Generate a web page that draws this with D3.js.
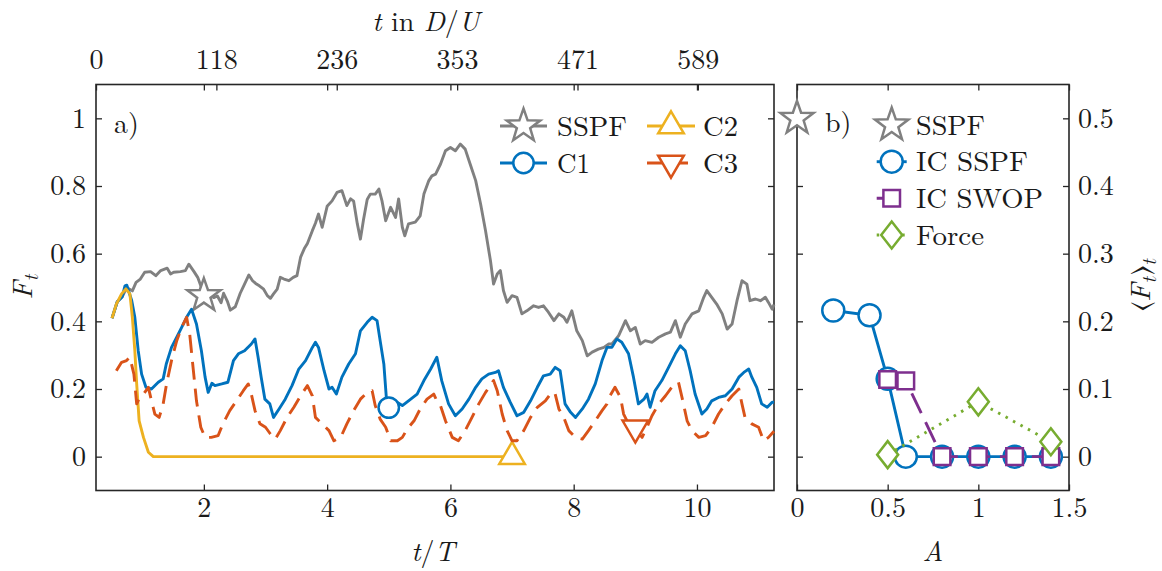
<!DOCTYPE html>
<html><head><meta charset="utf-8">
<script src="https://cdn.jsdelivr.net/npm/d3@7"></script>
<style>
body{margin:0;background:#fff}
</style>
</head><body>
<svg id="c" width="1162" height="571" xmlns="http://www.w3.org/2000/svg"></svg>
<script>
// ---------------- DATA ----------------
// panel a: t/T vs F_t
const sspf = [[0.51,0.409],[0.595,0.458],[0.676,0.473],[0.75,0.50],[0.84,0.49],[0.90,0.515],[0.97,0.525],[1.04,0.545],[1.135,0.547],[1.22,0.535],[1.30,0.550],[1.405,0.557],[1.46,0.540],[1.51,0.545],[1.62,0.547],[1.70,0.550],[1.756,0.569],[1.84,0.547],[1.90,0.530],[1.95,0.505],[2.0,0.478],[2.08,0.483],[2.16,0.47],[2.22,0.475],[2.28,0.455],[2.32,0.483],[2.38,0.46],[2.43,0.433],[2.51,0.443],[2.59,0.483],[2.66,0.51],[2.73,0.537],[2.79,0.52],[2.84,0.512],[2.90,0.505],[2.97,0.495],[3.03,0.476],[3.08,0.468],[3.13,0.481],[3.19,0.495],[3.24,0.530],[3.30,0.525],[3.38,0.520],[3.45,0.53],[3.51,0.535],[3.57,0.59],[3.63,0.615],[3.68,0.630],[3.76,0.668],[3.81,0.690],[3.86,0.717],[3.92,0.678],[4.00,0.740],[4.08,0.756],[4.16,0.781],[4.24,0.786],[4.32,0.742],[4.38,0.762],[4.43,0.755],[4.49,0.688],[4.54,0.643],[4.59,0.700],[4.65,0.760],[4.70,0.776],[4.78,0.776],[4.84,0.791],[4.89,0.756],[4.95,0.697],[5.03,0.737],[5.11,0.707],[5.16,0.762],[5.22,0.678],[5.26,0.653],[5.32,0.688],[5.43,0.693],[5.51,0.712],[5.57,0.776],[5.65,0.816],[5.70,0.83],[5.76,0.835],[5.84,0.865],[5.92,0.904],[6.00,0.914],[6.08,0.904],[6.16,0.924],[6.24,0.909],[6.32,0.865],[6.41,0.816],[6.49,0.747],[6.57,0.668],[6.65,0.579],[6.70,0.510],[6.76,0.540],[6.81,0.550],[6.86,0.491],[6.92,0.456],[7.00,0.476],[7.08,0.471],[7.16,0.422],[7.24,0.431],[7.35,0.446],[7.43,0.441],[7.51,0.446],[7.59,0.427],[7.68,0.402],[7.76,0.422],[7.84,0.412],[7.89,0.397],[7.97,0.431],[8.05,0.372],[8.14,0.343],[8.22,0.298],[8.30,0.309],[8.40,0.318],[8.49,0.323],[8.57,0.333],[8.62,0.333],[8.73,0.358],[8.84,0.402],[8.92,0.372],[9.00,0.382],[9.08,0.333],[9.16,0.343],[9.27,0.338],[9.38,0.353],[9.49,0.363],[9.57,0.368],[9.65,0.402],[9.73,0.353],[9.81,0.392],[9.92,0.422],[10.03,0.431],[10.11,0.471],[10.16,0.491],[10.24,0.471],[10.32,0.451],[10.41,0.422],[10.49,0.377],[10.57,0.392],[10.65,0.461],[10.73,0.520],[10.81,0.510],[10.86,0.461],[10.95,0.466],[11.03,0.461],[11.11,0.471],[11.16,0.456],[11.22,0.436],[11.25,0.45]];
const c1 = [[0.51,0.409],[0.595,0.458],[0.676,0.473],[0.72,0.505],[0.75,0.507],[0.83,0.461],[0.88,0.412],[0.935,0.313],[0.99,0.244],[1.06,0.205],[1.15,0.200],[1.26,0.220],[1.34,0.230],[1.39,0.274],[1.475,0.323],[1.56,0.353],[1.64,0.382],[1.72,0.412],[1.80,0.436],[1.88,0.392],[1.96,0.313],[2.02,0.235],[2.07,0.190],[2.13,0.217],[2.18,0.210],[2.29,0.215],[2.39,0.220],[2.48,0.284],[2.56,0.304],[2.66,0.313],[2.77,0.333],[2.83,0.348],[2.88,0.294],[2.93,0.235],[2.99,0.170],[3.07,0.156],[3.13,0.116],[3.22,0.141],[3.32,0.170],[3.43,0.210],[3.54,0.259],[3.65,0.284],[3.76,0.323],[3.81,0.338],[3.86,0.323],[3.95,0.254],[4.03,0.200],[4.08,0.205],[4.15,0.185],[4.24,0.235],[4.35,0.274],[4.46,0.304],[4.54,0.372],[4.65,0.397],[4.73,0.412],[4.81,0.402],[4.86,0.343],[4.92,0.274],[4.96,0.176],[5.00,0.145],[5.14,0.160],[5.22,0.151],[5.32,0.165],[5.46,0.185],[5.57,0.225],[5.68,0.259],[5.78,0.294],[5.86,0.224],[5.97,0.156],[6.08,0.121],[6.19,0.141],[6.30,0.170],[6.41,0.205],[6.51,0.230],[6.62,0.244],[6.73,0.249],[6.78,0.254],[6.86,0.205],[6.97,0.161],[7.08,0.121],[7.19,0.131],[7.30,0.165],[7.41,0.205],[7.51,0.239],[7.62,0.244],[7.70,0.264],[7.78,0.254],[7.86,0.156],[7.95,0.131],[8.03,0.116],[8.14,0.141],[8.24,0.170],[8.35,0.215],[8.46,0.284],[8.54,0.323],[8.62,0.323],[8.70,0.348],[8.78,0.338],[8.89,0.304],[8.97,0.235],[9.05,0.156],[9.14,0.170],[9.19,0.185],[9.24,0.146],[9.32,0.195],[9.43,0.225],[9.54,0.264],[9.65,0.304],[9.73,0.328],[9.81,0.313],[9.89,0.254],[9.97,0.185],[10.08,0.126],[10.16,0.141],[10.24,0.165],[10.35,0.175],[10.46,0.180],[10.57,0.200],[10.68,0.235],[10.76,0.249],[10.84,0.259],[10.89,0.235],[10.97,0.205],[11.05,0.156],[11.14,0.146],[11.22,0.161],[11.25,0.16]];
const c2 = [[0.51,0.409],[0.58,0.451],[0.665,0.481],[0.735,0.496],[0.80,0.481],[0.84,0.412],[0.88,0.313],[0.91,0.215],[0.95,0.106],[1.02,0.057],[1.10,0.013],[1.18,0.0],[7.0,0.0]];
const c3 = [[0.58,0.254],[0.665,0.279],[0.746,0.284],[0.80,0.294],[0.865,0.244],[0.91,0.156],[0.96,0.176],[1.02,0.185],[1.10,0.205],[1.15,0.165],[1.205,0.126],[1.275,0.116],[1.34,0.156],[1.395,0.215],[1.475,0.284],[1.56,0.343],[1.64,0.382],[1.72,0.412],[1.77,0.363],[1.83,0.254],[1.88,0.165],[1.95,0.087],[2.02,0.057],[2.12,0.057],[2.23,0.062],[2.31,0.097],[2.42,0.136],[2.53,0.165],[2.64,0.195],[2.72,0.215],[2.77,0.185],[2.83,0.136],[2.91,0.097],[3.00,0.087],[3.08,0.067],[3.16,0.052],[3.24,0.077],[3.35,0.116],[3.46,0.146],[3.57,0.180],[3.68,0.210],[3.76,0.180],[3.81,0.116],[3.92,0.097],[4.03,0.077],[4.11,0.047],[4.22,0.057],[4.32,0.097],[4.43,0.136],[4.54,0.170],[4.65,0.190],[4.73,0.195],[4.78,0.151],[4.86,0.111],[4.95,0.087],[5.03,0.047],[5.14,0.047],[5.22,0.057],[5.30,0.082],[5.41,0.106],[5.51,0.141],[5.62,0.170],[5.73,0.185],[5.78,0.165],[5.84,0.150],[5.92,0.106],[6.03,0.057],[6.13,0.047],[6.24,0.077],[6.35,0.116],[6.46,0.156],[6.57,0.190],[6.70,0.225],[6.76,0.195],[6.84,0.126],[6.92,0.077],[7.00,0.047],[7.08,0.047],[7.19,0.077],[7.30,0.116],[7.41,0.146],[7.54,0.165],[7.65,0.192],[7.70,0.185],[7.76,0.141],[7.84,0.116],[7.92,0.077],[8.03,0.057],[8.14,0.052],[8.24,0.077],[8.35,0.106],[8.46,0.136],[8.54,0.156],[8.59,0.180],[8.67,0.205],[8.76,0.175],[8.81,0.126],[8.89,0.097],[9.00,0.080],[9.11,0.057],[9.19,0.087],[9.27,0.121],[9.38,0.156],[9.49,0.180],[9.59,0.205],[9.70,0.220],[9.77,0.165],[9.84,0.106],[9.92,0.077],[10.03,0.057],[10.14,0.062],[10.24,0.087],[10.35,0.126],[10.46,0.156],[10.57,0.180],[10.68,0.200],[10.73,0.156],[10.78,0.116],[10.89,0.097],[11.00,0.087],[11.08,0.047],[11.16,0.057],[11.25,0.075]];
// marker positions on each curve (t/T, F_t)
const markerA = [
  {name:"SSPF", t:2.0, F:0.476},
  {name:"C1",   t:5.0, F:0.145},
  {name:"C2",   t:7.0, F:0.0},
  {name:"C3",   t:9.0, F:0.085}
];
// panel b: A vs <F_t>_t
const bSSPF_A = [0];         const bSSPF_F = [0.5];
const icSSPF_A = [0.2,0.4,0.5,0.6,0.8,1.0,1.2,1.4];
const icSSPF_F = [0.216,0.209,0.115,0,0,0,0,0];
const icSWOP_A = [0.5,0.6,0.8,1.0,1.2,1.4];
const icSWOP_F = [0.114,0.112,0,0,0,0];
const force_A = [0.5,1.0,1.4];
const force_F = [0.003,0.081,0.022];
// ticks
const xTicksA = [2,4,6,8,10];
const yTicksA = [0,0.2,0.4,0.6,0.8,1];
const yTickLabelsA = ["0","0.2","0.4","0.6","0.8","1"];
const topTicks = [0,117.8,235.6,353.4,471.2,589];
const topTickLabels = ["0","118","236","353","471","589"];
const xTicksB = [0,0.5,1,1.5];
const xTickLabelsB = ["0","0.5","1","1.5"];
const yTicksB = [0,0.1,0.2,0.3,0.4,0.5];
const yTickLabelsB = ["0","0.1","0.2","0.3","0.4","0.5"];

// ---------------- STYLE ----------------
const COL = {gray:"#808080", blue:"#0072BD", yellow:"#EDB120", red:"#D95319", purple:"#7E2F8E", green:"#77AC30", axis:"#262626"};
const FF = "'Latin Modern Roman', 'CMU Serif', 'Liberation Serif', 'Times New Roman', 'Nimbus Roman', 'FreeSerif', 'Noto Serif', 'DejaVu Serif', serif";
const FS = 28, LW = 2.9, MW = 2.5;
const DASH = "18,9", DOT = "2.5,6";

const svg = d3.select("#c");
svg.append("rect").attr("width",1162).attr("height",571).attr("fill","#fff");

const pa = {l:96, r:774, t:84.5, b:490.5};
const pb = {l:797, r:1069, t:84.5, b:490.5};
const x = d3.scaleLinear().domain([0.25,11.25]).range([pa.l,pa.r]);
const y = d3.scaleLinear().domain([-0.1,1.1]).range([pa.b,pa.t]);
const xTop = d3.scaleLinear().domain([0,663.5]).range([pa.l,pa.r]);
const xb = d3.scaleLinear().domain([0,1.5]).range([pb.l,pb.r]);
const yb = d3.scaleLinear().domain([-0.05,0.55]).range([pb.b,pb.t]);

function txt(sel){ return sel.style("font-family",FF).attr("font-family",FF).style("font-size",FS+"px").attr("fill","#1a1a1a"); }
function styleAxis(g){
  g.select(".domain").remove();
  g.attr("font-family",FF);
  g.selectAll(".tick line").attr("stroke",COL.axis).attr("stroke-width",1.3);
  txt(g.selectAll(".tick text"));
}
function addAxis(axis, tx, ty){
  const g = svg.append("g").attr("transform",`translate(${tx},${ty})`).call(axis);
  styleAxis(g); return g;
}
// panel a axes
addAxis(d3.axisBottom(x).tickValues(xTicksA).tickSize(-6).tickPadding(7).tickFormat(d=>String(d)), 0, pa.b);
addAxis(d3.axisTop(x).tickValues(xTicksA).tickSize(-6).tickFormat(""), 0, pa.t);
addAxis(d3.axisTop(xTop).tickValues(topTicks).tickSize(-6).tickPadding(16).tickFormat((d,i)=>topTickLabels[i]), 0, pa.t);
addAxis(d3.axisLeft(y).tickValues(yTicksA).tickSize(-6).tickPadding(10).tickFormat((d,i)=>yTickLabelsA[i]), pa.l, 0);
addAxis(d3.axisRight(y).tickValues(yTicksA).tickSize(-6).tickFormat(""), pa.r, 0);
// panel b axes
addAxis(d3.axisBottom(xb).tickValues(xTicksB).tickSize(-6).tickPadding(7).tickFormat((d,i)=>xTickLabelsB[i]), 0, pb.b);
addAxis(d3.axisTop(xb).tickValues(xTicksB).tickSize(-6).tickFormat(""), 0, pb.t);
addAxis(d3.axisLeft(yb).tickValues(yTicksB).tickSize(-6).tickFormat(""), pb.l, 0);
addAxis(d3.axisRight(yb).tickValues(yTicksB).tickSize(-6).tickPadding(9).tickFormat((d,i)=>yTickLabelsB[i]), pb.r, 0);

// frames
[pa,pb].forEach(p=>svg.append("rect").attr("x",p.l).attr("y",p.t).attr("width",p.r-p.l).attr("height",p.b-p.t)
  .attr("fill","none").attr("stroke",COL.axis).attr("stroke-width",1.6));

// ---------------- MARKERS ----------------
function starPath(R){
  const r = R*0.4, pts=[];
  for(let k=0;k<10;k++){
    const a = -Math.PI/2 + k*Math.PI/5, rr = k%2===0?R:r;
    pts.push([rr*Math.cos(a), rr*Math.sin(a)]);
  }
  return "M"+pts.map(p=>p[0].toFixed(2)+","+p[1].toFixed(2)).join("L")+"Z";
}
function drawMarker(g, type, cx, cy, color){
  let el;
  if(type==="star") el = g.append("path").attr("d",starPath(17.5));
  else if(type==="circle") el = g.append("circle").attr("r",10.2);
  else if(type==="circleB") el = g.append("circle").attr("r",11);
  else if(type==="tri") el = g.append("path").attr("d","M0,-14.7L12.8,7.3L-12.8,7.3Z");
  else if(type==="triDown") el = g.append("path").attr("d","M0,14.7L12.8,-7.3L-12.8,-7.3Z");
  else if(type==="square") el = g.append("path").attr("d","M-8.3,-8.3H8.3V8.3H-8.3Z");
  else if(type==="diamond") el = g.append("path").attr("d","M0,-13.5L10.5,0L0,13.5L-10.5,0Z");
  if(type==="circle"||type==="circleB") el.attr("cx",cx).attr("cy",cy);
  else el.attr("transform",`translate(${cx},${cy})`);
  el.attr("fill","#fff").attr("stroke",color).attr("stroke-width",MW).attr("stroke-linejoin","miter");
  return el;
}

// ---------------- PANEL A LINES ----------------
const lineA = d3.line().x(d=>x(d[0])).y(d=>y(d[1]));
const seriesA = [
  {data:sspf, color:COL.gray, dash:null, marker:"star"},
  {data:c1, color:COL.blue, dash:null, marker:"circle"},
  {data:c2, color:COL.yellow, dash:null, marker:"tri"},
  {data:c3, color:COL.red, dash:DASH, marker:"triDown"}
];
const gA = svg.append("g");
seriesA.forEach((s,i)=>{
  gA.append("path").attr("d",lineA(s.data)).attr("fill","none").attr("stroke",s.color)
    .attr("stroke-width",LW).attr("stroke-linejoin","round").attr("stroke-dasharray",s.dash);
  const m = markerA[i];
  drawMarker(gA, s.marker, x(m.t), y(m.F), s.color);
});

// ---------------- PANEL B ----------------
const gB = svg.append("g");
const lineB = d3.line().x(d=>xb(d[0])).y(d=>yb(d[1]));
const zipB = (a,f)=>a.map((v,i)=>[v,f[i]]);
const bSeries = [
  {A:icSSPF_A, F:icSSPF_F, color:COL.blue, dash:null, marker:"circleB"},
  {A:icSWOP_A, F:icSWOP_F, color:COL.purple, dash:"22,10", marker:"square"},
  {A:force_A, F:force_F, color:COL.green, dash:DOT, marker:"diamond"}
];
drawMarker(gB, "star", xb(bSSPF_A[0]), yb(bSSPF_F[0]), COL.gray);
bSeries.forEach(s=>{
  const d = zipB(s.A,s.F);
  gB.append("path").attr("d",lineB(d)).attr("fill","none").attr("stroke",s.color)
    .attr("stroke-width",LW).attr("stroke-dasharray",s.dash);
  d.forEach(p=>drawMarker(gB, s.marker, xb(p[0]), yb(p[1]), s.color));
});

// ---------------- LEGENDS ----------------
function legendEntry(g, lx0, lx1, ly, color, dash, marker, label, tx, w){
  if(lx1>lx0) g.append("line").attr("x1",lx0).attr("x2",lx1).attr("y1",ly).attr("y2",ly)
    .attr("stroke",color).attr("stroke-width",LW).attr("stroke-dasharray",dash);
  drawMarker(g, marker, (lx0+lx1)/2, ly, color);
  txt(g.append("text").attr("x",tx).attr("y",ly+9.5)).attr("textLength",w).attr("lengthAdjust","spacingAndGlyphs").text(label);
}
const gL = svg.append("g");
legendEntry(gL, 500, 547, 126, COL.gray, null, "star", "SSPF", 557, 70);
legendEntry(gL, 500, 547, 163, COL.blue, null, "circle", "C1", 557, 33);
legendEntry(gL, 647, 695, 126, COL.yellow, null, "tri", "C2", 703, 35);
legendEntry(gL, 647, 695, 163, COL.red, "16,9", "triDown", "C3", 703, 35);
legendEntry(gL, 891.7, 891.7, 125, COL.gray, null, "star", "SSPF", 916, 69);
legendEntry(gL, 876.7, 906.7, 161.7, COL.blue, null, "circleB", "IC SSPF", 916, 112);
legendEntry(gL, 876.7, 906.7, 198.3, COL.purple, "8,8", "square", "IC SWOP", 916, 127);
legendEntry(gL, 876.7, 906.7, 235, COL.green, DOT, "diamond", "Force", 916, 68);

// panel labels
txt(svg.append("text").attr("x",114).attr("y",133)).text("a)");
txt(svg.append("text").attr("x",825).attr("y",132)).text("b)");

// ---------------- AXIS LABELS ----------------
function mathText(sel, parts){
  txt(sel).attr("text-anchor","middle").style("white-space","pre");
  parts.forEach(p=>{
    const ts = sel.append("tspan").text(p.t).style("font-family",FF);
    if(p.i) ts.style("font-style","italic");
    if(p.sub) ts.style("font-size","20px");
    if(p.dy) ts.attr("dy",p.dy);
    if(p.dx) ts.attr("dx",p.dx);
  });
  return sel;
}
mathText(svg.append("text").attr("x",426).attr("y",31),
  [{t:"t",i:1},{t:" in "},{t:"D",i:1},{t:"/"},{t:"U",i:1}]);
mathText(svg.append("text").attr("x",433).attr("y",561),
  [{t:"t",i:1},{t:"/"},{t:"T",i:1}]);
mathText(svg.append("text").attr("x",933).attr("y",561),
  [{t:"A",i:1}]);
mathText(svg.append("text").attr("transform","translate(32,287) rotate(-90)"),
  [{t:"F",i:1},{t:"t",i:1,sub:1,dy:6}]);
mathText(svg.append("text").attr("transform","translate(1150,285) rotate(-90)"),
  [{t:"\u27E8"},{t:"F",i:1},{t:"t",i:1,sub:1,dy:6},{t:"\u27E9",dy:-6,dx:2},{t:"t",i:1,sub:1,dy:6}]);
</script>
</body></html>
